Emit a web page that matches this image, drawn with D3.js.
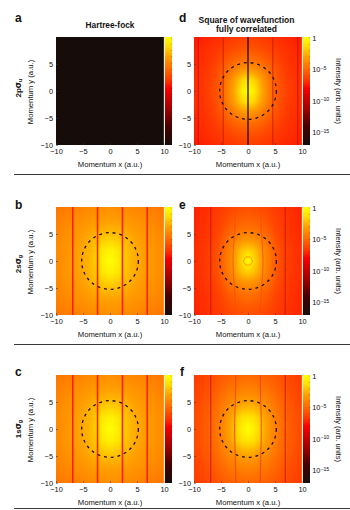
<!DOCTYPE html>
<html><head><meta charset="utf-8">
<script src="https://cdn.jsdelivr.net/npm/d3@7"></script>
<style>html,body{margin:0;padding:0;background:#fff}svg{display:block}text{font-family:"Liberation Sans",Arial,sans-serif;fill:#111}</style>
</head><body><div id="c"></div>
<script>
// quadrant grids: log10 intensity; rows y = 0,2,...,10, columns x = 0,1,...,10
const yGrid=[0,2,4,6,8,10];
const xGrid=[0,1,2,3,4,5,6,7,8,9,10];
const gridA=[[-17,-17,-17,-17,-17,-17,-17,-17,-17,-17,-17],[-17,-17,-17,-17,-17,-17,-17,-17,-17,-17,-17],[-17,-17,-17,-17,-17,-17,-17,-17,-17,-17,-17],[-17,-17,-17,-17,-17,-17,-17,-17,-17,-17,-17],[-17,-17,-17,-17,-17,-17,-17,-17,-17,-17,-17],[-17,-17,-17,-17,-17,-17,-17,-17,-17,-17,-17]];
const gridB=[[0,-0.4,-1.2,-2,-2.5,-2.8,-3,-3.2,-3.4,-3.6,-3.8],[-0.5,-0.7,-1.4,-2.1,-2.5,-2.8,-3,-3.2,-3.4,-3.6,-3.8],[-1.7,-1.8,-2.1,-2.4,-2.7,-3,-3.2,-3.4,-3.5,-3.7,-3.9],[-2.6,-2.6,-2.7,-2.9,-3.1,-3.3,-3.4,-3.6,-3.7,-3.9,-4.1],[-3.2,-3.2,-3.3,-3.4,-3.5,-3.6,-3.7,-3.9,-4,-4.1,-4.3],[-3.6,-3.7,-3.7,-3.8,-3.9,-4,-4.1,-4.2,-4.3,-4.4,-4.6]];
const gridC=[[0,-0.4,-1.2,-2,-2.5,-2.8,-3,-3.2,-3.4,-3.6,-3.8],[-0.5,-0.7,-1.4,-2.1,-2.5,-2.8,-3,-3.2,-3.4,-3.6,-3.8],[-1.7,-1.8,-2.1,-2.4,-2.7,-3,-3.2,-3.4,-3.5,-3.7,-3.9],[-2.6,-2.6,-2.7,-2.9,-3.1,-3.3,-3.4,-3.6,-3.7,-3.9,-4.1],[-3.2,-3.2,-3.3,-3.4,-3.5,-3.6,-3.7,-3.9,-4,-4.1,-4.3],[-3.6,-3.7,-3.7,-3.8,-3.9,-4,-4.1,-4.2,-4.3,-4.4,-4.6]];
const gridD=[[0,-0.6,-2,-3.2,-4.3,-5.2,-5.8,-6.2,-6.6,-6.8,-7],[-1.3,-1.5,-2.5,-3.5,-4.5,-5.3,-5.9,-6.3,-6.6,-6.8,-7],[-3.3,-3.5,-3.9,-4.5,-5,-5.6,-6.1,-6.5,-6.7,-6.9,-7.1],[-4.8,-4.9,-5.1,-5.4,-5.7,-6.1,-6.4,-6.7,-6.9,-7,-7.2],[-5.7,-5.8,-5.9,-6.1,-6.3,-6.5,-6.7,-6.9,-7,-7.1,-7.3],[-6.3,-6.4,-6.5,-6.6,-6.7,-6.9,-7,-7.1,-7.2,-7.3,-7.4]];
const gridE=[[0,-1.3,-2.5,-3.6,-4.5,-5.3,-5.9,-6.3,-6.6,-6.8,-7],[-1.7,-2,-2.8,-3.7,-4.6,-5.4,-6,-6.3,-6.6,-6.8,-7],[-3.4,-3.5,-3.9,-4.4,-5,-5.7,-6.2,-6.5,-6.7,-6.9,-7.1],[-4.6,-4.7,-4.9,-5.2,-5.6,-6.1,-6.4,-6.6,-6.8,-7,-7.1],[-5.3,-5.4,-5.5,-5.7,-6,-6.3,-6.5,-6.7,-6.9,-7,-7.2],[-5.8,-5.9,-6,-6.1,-6.3,-6.5,-6.7,-6.8,-7,-7.1,-7.2]];
const gridF=[[0,-0.5,-1.5,-2.6,-3.4,-4.1,-4.6,-5.1,-5.5,-5.8,-6.1],[-0.9,-1.1,-1.8,-2.8,-3.5,-4.2,-4.7,-5.2,-5.5,-5.8,-6.1],[-2.4,-2.5,-2.9,-3.4,-3.9,-4.4,-4.9,-5.3,-5.6,-5.9,-6.2],[-3.5,-3.6,-3.8,-4.1,-4.4,-4.8,-5.2,-5.5,-5.8,-6.1,-6.3],[-4.3,-4.4,-4.5,-4.7,-4.9,-5.2,-5.5,-5.8,-6,-6.2,-6.4],[-5,-5,-5.1,-5.2,-5.4,-5.6,-5.8,-6,-6.2,-6.4,-6.5]];
// nodal lines: x position at y = 0 and at |y| = 10
const nodesB=[[2.3,2.3],[6.9,6.9]];
const nodesC=[[2.3,2.3],[6.9,6.9]];
const nodesD=[[0,0],[4.6,4.6],[9.2,9.2]];
const nodesE=[[2.95,2.25],[6.9,6.9]];
const nodesF=[[2.55,2.25],[6.9,6.9]];
const nodeStyleB=["#ff1c00","#ff1c00"], nodeStyleC=nodeStyleB;
const nodeStyleD=["#100000","#c01800","#c01800"];
const nodeStyleE=["#ff4800","#c01800"], nodeStyleF=["#f03800","#c01800"];
const panelLetters=["a","b","c","d","e","f"];
const rowLabels=[["2p","σ","u"],["2s","σ","g"],["1s","σ","g"]];
const colorStops=[0,-1.5,-3,-5,-7,-8,-11,-14,-17];
const colorValues=["#ffff00","#ffd800","#ffa000","#ff6800","#ff2c00","#f80000","#a80000","#480000","#160d0b"];
const ticks=[-10,-5,0,5,10];
const barLabels=[[0,""],[-5,"-5"],[-10,"-10"],[-15,"-15"]];
const barDecades=d3.range(0,-17,-1);

const W=350,H=510,S=108;
const svg=d3.select("#c").append("svg").attr("width",W).attr("height",H);
const color=d3.scaleLinear().domain(colorStops).range(colorValues).clamp(true);
const sx0=[56,194], sy0=[37,207,375];
const panels=[
 {l:"a",col:0,row:0,g:gridA,n:[],s:[],w:1,o:.75},
 {l:"b",col:0,row:1,g:gridB,n:nodesB,s:nodeStyleB,w:1.5,o:1},
 {l:"c",col:0,row:2,g:gridC,n:nodesC,s:nodeStyleC,w:1.5,o:1},
 {l:"d",col:1,row:0,g:gridD,n:nodesD,s:nodeStyleD,w:1.1,o:.75},
 {l:"e",col:1,row:1,g:gridE,n:nodesE,s:nodeStyleE,w:1.1,o:.75,ring:true},
 {l:"f",col:1,row:2,g:gridF,n:nodesF,s:nodeStyleF,w:1.1,o:.75}];

function heat(g){
 const cv=document.createElement("canvas");cv.width=cv.height=S;
 const c=cv.getContext("2d"),im=c.createImageData(S,S);
 const fx=d3.scaleLinear().domain([0,S]).range([-10,10]);
 for(let j=0;j<S;j++)for(let i=0;i<S;i++){
  const x=Math.abs(fx(i+.5)),y=Math.abs(fx(j+.5));
  const a=Math.min(9,Math.floor(x)),b=Math.min(4,Math.floor(y/2));
  const u=x-a,v=y/2-b;
  const val=d3.interpolate(d3.interpolate(g[b][a],g[b][a+1])(u),d3.interpolate(g[b+1][a],g[b+1][a+1])(u))(v);
  const k=d3.rgb(color(val)),o=(j*S+i)*4;
  im.data[o]=k.r;im.data[o+1]=k.g;im.data[o+2]=k.b;im.data[o+3]=255;
 }
 c.putImageData(im,0,0);return cv.toDataURL();
}
const defs=svg.append("defs");
defs.append("filter").attr("id","soft").attr("filterUnits","userSpaceOnUse").attr("x",0).attr("y",0).attr("width",W).attr("height",H).append("feGaussianBlur").attr("stdDeviation",.5);

panels.forEach(p=>{
 const x0=sx0[p.col],y0=sy0[p.row];
 const x=d3.scaleLinear().domain([-10,10]).range([x0,x0+S]);
 const y=d3.scaleLinear().domain([-10,10]).range([y0+S,y0]);
 const g=svg.append("g");
 g.append("image").attr("x",x0).attr("y",y0).attr("width",S).attr("height",S).attr("href",heat(p.g));
 const clip="cl"+p.l;
 defs.append("clipPath").attr("id",clip).append("rect").attr("x",x0).attr("y",y0).attr("width",S).attr("height",S);
 const gl=g.append("g").attr("clip-path",`url(#${clip})`);
 const line=d3.line().curve(d3.curveBasis).x(d=>x(d[0])).y(d=>y(d[1]));
 p.n.forEach((n,i)=>{
  [1,-1].forEach(sg=>{
   if(n[0]===0&&sg<0)return;
   const pts=[[n[1],-10],[n[1]+(n[0]-n[1])*.3,-5],[n[0],0],[n[1]+(n[0]-n[1])*.3,5],[n[1],10]].map(d=>[sg*d[0],d[1]]);
   gl.append("path").attr("d",line(pts)).attr("fill","none").attr("stroke",p.s[i]).attr("stroke-width",n[0]===0?1.2:p.w).attr("stroke-opacity",n[0]===0?1:p.o).attr("filter","url(#soft)");
  });
 });
 if(p.ring) gl.append("circle").attr("cx",x(0)).attr("cy",y(0)).attr("r",x(0.8)-x(0)).attr("fill","none").attr("stroke","#ff9a00").attr("stroke-width",1).attr("filter","url(#soft)");
 if(p.l!=="a") gl.append("circle").attr("cx",x(0)).attr("cy",y(0)).attr("r",x(5.25)-x(0)).attr("fill","none").attr("stroke","#1c0c00").attr("stroke-width",1.3).attr("stroke-dasharray","2.9 3.9");
 // axes
 const ax=d3.axisBottom(x).tickValues(ticks).tickSize(-2).tickPadding(3.5).tickFormat(d=>d<0?"−"+(-d):d);
 const ay=d3.axisLeft(y).tickValues(ticks.slice(0,4)).tickSize(-2).tickPadding(3).tickFormat(d=>d<0?"−"+(-d):d);
 [g.append("g").attr("transform",`translate(0,${y0+S})`).call(ax),g.append("g").attr("transform",`translate(${x0},0)`).call(ay)].forEach(a=>{
  a.select(".domain").remove();
  a.selectAll("line").attr("stroke","#333").attr("stroke-width",.5);
  a.selectAll("text").attr("font-size",7.4).attr("fill","#111").attr("font-family","Liberation Sans");
 });
 g.append("text").attr("x",x(0)).attr("y",y0+S+21.5).attr("text-anchor","middle").attr("font-size",7.7).text("Momentum x (a.u.)");
 if(p.col===0) g.append("text").attr("transform",`translate(${x0-23},${y(0)+1}) rotate(-90)`).attr("text-anchor","middle").attr("font-size",7.7).text("Momentum y (a.u.)");
 // colour bar
 const bx=x0+S+.6,bw=7.6;
 const by=d3.scaleLinear().domain([0.15,-17]).range([y0,y0+S]);
 g.append("g").attr("shape-rendering","crispEdges").selectAll("rect").data(d3.range(0,S,1)).join("rect").attr("x",bx).attr("width",bw).attr("y",d=>y0+d).attr("height",1).attr("fill",d=>color(by.invert(y0+d+.5)));
 g.append("line").attr("x1",x0+S+.3).attr("x2",x0+S+.3).attr("y1",y0).attr("y2",y0+S).attr("stroke","#e8e0d8").attr("stroke-width",.8);
 g.append("g").selectAll("line").data(barDecades).join("line").attr("x1",bx+bw-1.5).attr("x2",bx+bw).attr("y1",d=>by(d)).attr("y2",d=>by(d)).attr("stroke","#222").attr("stroke-opacity",.55).attr("stroke-width",.5);
 if(p.col===1){
  barLabels.forEach(b=>{
   const t=g.append("text").attr("x",bx+bw+2).attr("y",by(b[0])+2.6).attr("font-size",7.4);
   if(b[1]===""){t.text("1");}
   else{t.append("tspan").text("10");t.append("tspan").attr("dy",-2.4).attr("font-size",5.2).text(b[1].replace("-","−"));}
  });
  g.append("text").attr("transform",`translate(${x0+S+34},${y(0)}) rotate(90)`).attr("text-anchor","middle").attr("font-size",7.5).text("Intensity (arb. units)");
 }
});

// panel letters
const letterPos={a:[15,22],b:[15,209],c:[15,376],d:[179,22],e:[179,209],f:[180,376]};
svg.append("g").selectAll("text").data(panelLetters).join("text").attr("x",d=>letterPos[d][0]).attr("y",d=>letterPos[d][1]).attr("font-size",12).attr("font-weight",700).text(d=>d);
// titles
svg.append("text").attr("x",110).attr("y",28).attr("text-anchor","middle").attr("font-size",8.3).attr("font-weight",700).text("Hartree-fock");
svg.append("text").attr("x",246.5).attr("y",23).attr("text-anchor","middle").attr("font-size",8.5).attr("font-weight",700).text("Square of wavefunction");
svg.append("text").attr("x",246.5).attr("y",32).attr("text-anchor","middle").attr("font-size",8.5).attr("font-weight",700).text("fully correlated");
// row labels
rowLabels.forEach((r,i)=>{
 const t=svg.append("text").attr("transform",`translate(20.5,${[88,264,429][i]}) rotate(-90)`).attr("text-anchor","middle").attr("font-size",8).attr("font-weight",700);
 t.append("tspan").text(r[0]);t.append("tspan").attr("font-family","DejaVu Sans").text(r[1]);
 t.append("tspan").attr("dy",1.8).attr("font-size",5.5).text(r[2]);
});
// separators
[174.5,344.5,508.5].forEach(v=>svg.append("line").attr("x1",14).attr("x2",350).attr("y1",v).attr("y2",v).attr("stroke","#222").attr("stroke-width",.9));
</script></body></html>
